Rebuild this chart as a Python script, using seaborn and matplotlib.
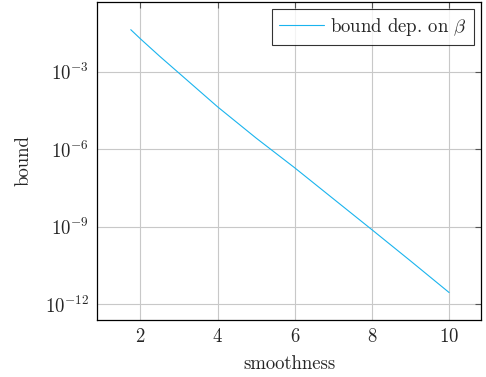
import matplotlib
matplotlib.use("Agg")
import matplotlib.pyplot as plt
import numpy as np
import pandas as pd
import seaborn as sns

# values (log scale)
smoothness = [1.75, 2.0, 2.5, 3.0, 4.0, 5.0, 6.0, 7.0, 8.0, 9.0, 10.0]
bound = [4.3e-2, 1.9e-2, 4.0e-3, 8.9e-4, 4.4e-5, 2.7e-6, 1.9e-7, 1.2e-8, 7.6e-10, 4.7e-11, 2.8e-12]
x_ticks = [2, 4, 6, 8, 10]
y_ticks = [1e-3, 1e-6, 1e-9, 1e-12]

df = pd.DataFrame({"smoothness": smoothness, "bound": bound})

sns.set_style("white")
plt.rcParams["font.family"] = ["cmr10", "DejaVu Serif"]
plt.rcParams["mathtext.fontset"] = "cm"
plt.rcParams["axes.formatter.use_mathtext"] = True

fs = 13.5
fig = plt.figure(figsize=(4.86, 3.77), dpi=100)
ax = fig.add_axes([0.2, 0.151, 0.79, 0.844])

sns.lineplot(data=df, x="smoothness", y="bound", ax=ax, color="#1AB4EE",
             linewidth=0.8, label=r"bound dep. on $\beta$")
ax.set_yscale("log")
ax.set_xlim(0.88, 10.83)
ax.set_ylim(10 ** -12.62, 10 ** -0.29)
ax.set_xticks(x_ticks)
ax.set_yticks(y_ticks)
ax.minorticks_off()
ax.grid(True, color="#c8c8c8", linewidth=0.8)
ax.tick_params(direction="in", length=4, color="#555555", labelsize=fs,
               top=True, right=True, pad=6)
for s in ax.spines.values():
    s.set_color("black")
    s.set_linewidth(0.9)
ax.set_xlabel("smoothness", fontsize=fs, labelpad=6)
ax.set_ylabel("bound", fontsize=fs, labelpad=9)

leg = ax.legend(loc="upper right", fontsize=fs, frameon=True, fancybox=False,
                handlelength=2.4, handletextpad=0.35, borderaxespad=0.4,
                borderpad=0.35)
leg.get_frame().set_edgecolor("black")
leg.get_frame().set_linewidth(0.8)

fig.savefig("out.png", dpi=100)
